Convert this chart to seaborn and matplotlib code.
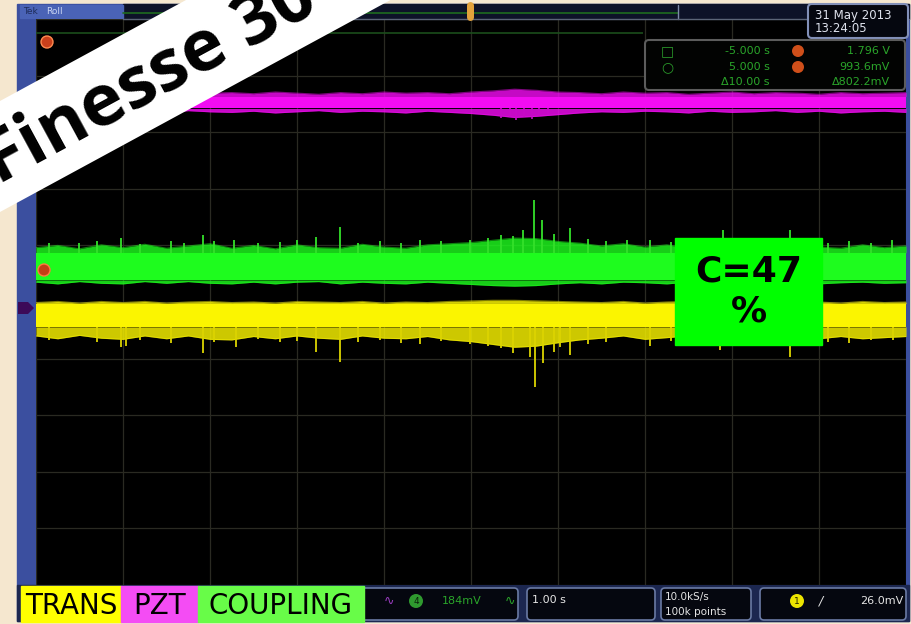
import numpy as np
import pandas as pd
import matplotlib
matplotlib.use("Agg")
import matplotlib.pyplot as plt
import seaborn as sns
from matplotlib import font_manager
from matplotlib.patches import Rectangle, Polygon, FancyBboxPatch, Circle
from matplotlib.transforms import Affine2D

# ---------------------------------------------------------------------------
# Scope capture: 1.00 s/div roll mode, 10 x 10 screen divisions
# time axis in seconds, vertical axis in screen divisions (0 = bottom)
# ---------------------------------------------------------------------------
sample_t = np.linspace(-5, 5, 41)

channels = ["TRANS", "PZT", "COUPLING"]
channel_colors = {"TRANS": "#fbf500", "PZT": "#f20cf2", "COUPLING": "#1efc1e"}
label_colors = {"TRANS": "#ffff00", "PZT": "#f44cf4", "COUPLING": "#68fc48"}

# PZT (magenta) trace envelope
pzt_core = (8.42, 8.63)
pzt_upper = [8.68, 8.70, 8.67, 8.69, 8.71, 8.68, 8.70, 8.67, 8.69, 8.70, 8.68,
             8.71, 8.69, 8.67, 8.70, 8.68, 8.71, 8.69, 8.70, 8.68, 8.71, 8.73,
             8.76, 8.74, 8.71, 8.70, 8.68, 8.71, 8.69, 8.70, 8.67, 8.69, 8.71,
             8.68, 8.70, 8.69, 8.67, 8.70, 8.68, 8.69, 8.70]
pzt_lower = [8.37, 8.35, 8.38, 8.36, 8.34, 8.37, 8.35, 8.38, 8.36, 8.35, 8.37,
             8.34, 8.36, 8.38, 8.35, 8.37, 8.36, 8.34, 8.37, 8.35, 8.33, 8.30,
             8.26, 8.28, 8.31, 8.34, 8.36, 8.35, 8.37, 8.36, 8.34, 8.37, 8.35,
             8.36, 8.38, 8.35, 8.37, 8.34, 8.36, 8.37, 8.35]
pzt_spike_t = [0.35, 0.45, 0.52, 0.61, 0.70, 0.78, 0.88]
pzt_spike_bottom = [8.25, 8.27, 8.22, 8.26, 8.24, 8.28, 8.30]

# COUPLING (green) trace envelope and upward glitches
coupling_core = (5.39, 5.87)
coupling_upper = [5.96, 6.00, 5.94, 6.01, 5.96, 6.02, 5.95, 5.99, 6.03, 5.95, 6.00,
                  5.94, 6.01, 5.96, 5.95, 6.02, 5.97, 5.95, 6.01, 6.03, 6.05, 6.09,
                  6.13, 6.12, 6.07, 6.04, 5.99, 6.03, 5.97, 6.01, 5.95, 6.02, 5.96,
                  6.00, 5.94, 6.02, 5.97, 5.95, 6.01, 5.96, 5.99]
coupling_lower = [5.35, 5.32, 5.36, 5.33, 5.32, 5.36, 5.33, 5.36, 5.33, 5.32, 5.35,
                  5.32, 5.35, 5.36, 5.32, 5.35, 5.33, 5.32, 5.35, 5.33, 5.31, 5.29,
                  5.28, 5.29, 5.32, 5.34, 5.32, 5.35, 5.34, 5.32, 5.35, 5.33, 5.34,
                  5.36, 5.33, 5.35, 5.32, 5.34, 5.35, 5.33, 5.34]
coupling_spike_t = [-4.85, -4.51, -4.30, -4.02, -3.80, -3.45, -3.30, -3.08, -2.95,
                    -2.72, -2.45, -2.20, -2.00, -1.78, -1.51, -1.30, -1.05, -0.80,
                    -0.59, -0.35, -0.01, 0.20, 0.35, 0.48, 0.60, 0.72, 0.82, 0.95,
                    1.14, 1.35, 1.55, 1.79, 2.06, 2.30, 2.55, 2.90, 3.05, 3.35,
                    3.67, 3.90, 4.10, 4.35, 4.60, 4.84]
coupling_spike_top = [6.04, 6.05, 6.07, 6.13, 6.03, 6.08, 6.05, 6.18, 6.07,
                      6.10, 6.04, 6.06, 6.09, 6.15, 6.32, 6.05, 6.07, 6.04,
                      6.09, 6.07, 6.10, 6.13, 6.18, 6.17, 6.27, 6.80, 6.45, 6.20,
                      6.30, 6.11, 6.08, 6.10, 6.09, 6.06, 6.05, 6.27, 6.08, 6.05,
                      6.27, 6.07, 6.04, 6.07, 6.05, 6.10]

# TRANS (yellow) trace envelope and downward glitches
trans_core = (4.56, 4.97)
trans_upper = [4.99, 5.01, 4.98, 5.01, 4.99, 5.01, 4.98, 5.00, 5.01, 4.99, 5.00,
               4.98, 5.01, 5.00, 4.99, 5.01, 4.98, 5.00, 4.99, 5.01, 5.02, 5.03,
               5.03, 5.02, 5.01, 5.00, 4.99, 5.01, 4.98, 5.00, 5.01, 4.99, 5.01,
               4.98, 5.01, 4.99, 5.00, 4.98, 5.01, 4.99, 5.00]
trans_lower = [4.40, 4.35, 4.41, 4.36, 4.34, 4.40, 4.35, 4.40, 4.34, 4.33, 4.39,
               4.35, 4.40, 4.36, 4.34, 4.40, 4.36, 4.35, 4.39, 4.33, 4.30, 4.25,
               4.20, 4.22, 4.28, 4.33, 4.36, 4.40, 4.34, 4.37, 4.40, 4.35, 4.39,
               4.34, 4.37, 4.40, 4.35, 4.39, 4.35, 4.37, 4.39]
trans_spike_t = [-4.85, -4.30, -4.02, -3.97, -3.80, -3.45, -3.08, -2.95, -2.70,
                 -2.45, -2.20, -2.00, -1.78, -1.51, -1.30, -1.05, -0.80, -0.59,
                 -0.35, -0.01, 0.20, 0.35, 0.48, 0.68, 0.74, 0.83, 0.95, 1.02,
                 1.14, 1.35, 1.55, 2.06, 2.30, 2.55, 2.86, 3.05, 3.35, 3.67,
                 3.90, 4.10, 4.35, 4.60, 4.85]
trans_spike_bottom = [4.32, 4.30, 4.20, 4.22, 4.33, 4.28, 4.10, 4.30, 4.20,
                      4.34, 4.29, 4.31, 4.12, 3.94, 4.30, 4.33, 4.28, 4.25,
                      4.31, 4.26, 4.22, 4.18, 4.10, 4.03, 3.50, 3.92, 4.12, 4.20,
                      4.06, 4.26, 4.30, 4.22, 4.31, 4.28, 4.15, 4.32, 4.29, 4.03,
                      4.33, 4.30, 4.27, 4.32, 4.33]

# horizontal cursor (upper) shown as a dim line
cursor_level = [9.75]
cursor_end_t = [1.98]

# readouts
cursor_rows = [("\u25a1", "-5.000 s", "1.796 V"),
               ("\u25cb", "5.000 s", "993.6mV"),
               ("", "\u039410.00 s", "\u0394802.2mV")]
date_lines = ["31 May 2013", "13:24:05"]
coupling_text = "C=47\n%"
banner_text = "Finesse 30"

# ---------------------------------------------------------------------------
W, H = 912, 624
sns.set_theme(style="dark", rc={"axes.facecolor": "black",
                                "figure.facecolor": "#f5e7cf"})
plt.rcParams["font.family"] = ["DejaVu Sans"]

available = {f.name for f in font_manager.fontManager.ttflist}
banner_family = "Open Sans" if "Open Sans" in available else "DejaVu Sans"

fig = plt.figure(figsize=(W / 100, H / 100), dpi=100)
px = Affine2D().scale(1 / W, -1 / H).translate(0, 1) + fig.transFigure


def prect(x0, y0, x1, y1, z=-1, **kw):
    r = Rectangle((x0, y0), x1 - x0, y1 - y0, transform=px, zorder=z, **kw)
    fig.add_artist(r)
    return r


def pbox(x0, y0, x1, y1, z=2, **kw):
    b = FancyBboxPatch((x0, y0), x1 - x0, y1 - y0, boxstyle="round,pad=0,rounding_size=4",
                       transform=px, zorder=z, **kw)
    fig.add_artist(b)
    return b


def ptext(x, y, s, z=4, **kw):
    return fig.text(x, y, s, transform=px, zorder=z, **kw)


def pcircle(x, y, r, z=3, **kw):
    c = Circle((x, y), r, transform=px, zorder=z, **kw)
    fig.add_artist(c)
    return c


# instrument bezel
prect(17, 4, 909, 621, color="#3b4f9f", z=-2)
prect(123, 4, 909, 19, color="#0d1228", z=-1)
prect(17, 585, 909, 621, color="#1c2750", z=-1)
prect(20, 5, 123, 18, color="#4a63b6", z=-1)
ptext(23, 12, "Tek", color="#1e2c5a", fontsize=6.5, va="center")
ptext(46, 12, "Roll", color="#c9d5f2", fontsize=6.5, va="center")

# screen
ax = fig.add_axes([36 / W, (H - 585) / H, 870 / W, 566 / H])
ax.set_facecolor("black")
ax.set_xlim(-5, 5)
ax.set_ylim(0, 10)
ax.set_xticks(np.arange(-5, 5.01, 1))
ax.set_yticks(np.arange(0, 10.01, 1))
ax.grid(True, color="#2a2a22", lw=0.9)
ax.tick_params(length=0, labelbottom=False, labelleft=False)
for s in ax.spines.values():
    s.set_visible(False)

traces = {
    "PZT": (pzt_core, pzt_upper, pzt_lower),
    "COUPLING": (coupling_core, coupling_upper, coupling_lower),
    "TRANS": (trans_core, trans_upper, trans_lower),
}

rows = []
for name, (core, up, lo) in traces.items():
    for t, u, l in zip(sample_t, up, lo):
        rows.append({"channel": name, "edge": "upper", "time": t, "level": u})
        rows.append({"channel": name, "edge": "lower", "time": t, "level": l})
env = pd.DataFrame(rows)

for z, name in enumerate(["PZT", "COUPLING", "TRANS"]):
    core, up, lo = traces[name]
    col = channel_colors[name]
    # noisy fringe around the solid band
    ax.fill_between(sample_t, core[1], up, color=col, alpha=0.82, lw=0, zorder=3 + z)
    ax.fill_between(sample_t, lo, core[0], color=col, alpha=0.82, lw=0, zorder=3 + z)
    ax.fill_between(sample_t, core[0], core[1], color=col, lw=0, zorder=3 + z)
    sns.lineplot(data=env[env.channel == name], x="time", y="level", units="edge",
                 estimator=None, color=col, lw=0.8, alpha=0.5, ax=ax, zorder=3 + z,
                 legend=False)

ax.vlines(pzt_spike_t, pzt_spike_bottom, pzt_core[0],
          color="#c80ac8", lw=1.2, zorder=3)
ax.vlines(coupling_spike_t, coupling_core[1], coupling_spike_top,
          color="#34e02a", lw=1.3, zorder=4)
ax.vlines(trans_spike_t, trans_spike_bottom, trans_core[0],
          color="#dcd400", lw=1.3, zorder=5)
ax.hlines(cursor_level, -5, cursor_end_t, color="#1b4d1b", lw=1.2, zorder=2)
ax.set_xlabel("")
ax.set_ylabel("")

# record bar and trigger position
fig.add_artist(plt.Line2D([123, 678], [13, 13], transform=px, color="#1f6b1f", lw=1.2, zorder=1))
fig.add_artist(plt.Line2D([678, 678], [5, 19], transform=px, color="#7d8aa8", lw=1, zorder=1))
fig.add_artist(plt.Line2D([123, 909], [19, 19], transform=px, color="#5b6478", lw=1, zorder=1))
pbox(467, 2, 474, 21, z=3, facecolor="#e3a23c", edgecolor="none")

# channel markers
pcircle(47, 42, 6, facecolor="#c9401c", edgecolor="#ff8a50", lw=1)
pcircle(44, 270, 6, facecolor="#c24016", edgecolor="#ff7a40", lw=1, z=6)
fig.add_artist(Polygon([(18, 302), (28, 302), (34, 308), (28, 314), (18, 314)],
                       transform=px, facecolor="#3c0a58", edgecolor="none", zorder=3))

# date box
pbox(808, 4, 908, 38, facecolor="#05070f", edgecolor="#8290b8", lw=1.5)
ptext(815, 15, date_lines[0], color="#dfe3ee", fontsize=8.5, va="center")
ptext(815, 29, date_lines[1], color="#dfe3ee", fontsize=8.5, va="center")

# cursor readout box
pbox(645, 40, 905, 90, facecolor="#020302", edgecolor="#5c5c5c", lw=1.5)
row_y = [51, 67, 82]
for (sym, tval, vval), yy in zip(cursor_rows, row_y):
    if sym:
        ptext(667, yy, sym, color="#2a9a2a", fontsize=10, ha="center", va="center")
        pcircle(798, yy, 6, facecolor="#cf4f1a", edgecolor="none", z=3)
    ptext(770, yy, tval, color="#2aa52a", fontsize=8, ha="right", va="center")
    ptext(890, yy, vval, color="#2aa52a", fontsize=8, ha="right", va="center")

# status bar
pbox(350, 588, 518, 620, facecolor="#05070f", edgecolor="#6a7aa4", lw=1.2)
pbox(527, 588, 655, 620, facecolor="#05070f", edgecolor="#6a7aa4", lw=1.2)
pbox(661, 588, 751, 620, facecolor="#05070f", edgecolor="#6a7aa4", lw=1.2)
pbox(760, 588, 906, 620, facecolor="#05070f", edgecolor="#6a7aa4", lw=1.2)
ptext(389, 601, "\u223f", color="#9a3cc0", fontsize=9, ha="center", va="center")
pcircle(416, 601, 7, facecolor="#2f9a2f", edgecolor="none")
ptext(416, 601, "4", color="#0a200a", fontsize=6.5, ha="center", va="center")
ptext(442, 601, "184mV", color="#2aa52a", fontsize=8, va="center")
ptext(510, 601, "\u223f", color="#2aa52a", fontsize=9, ha="center", va="center")
ptext(532, 600, "1.00 s", color="#e4e4e4", fontsize=8, va="center")
ptext(665, 597, "10.0kS/s", color="#e4e4e4", fontsize=7.5, va="center")
ptext(665, 612, "100k points", color="#e4e4e4", fontsize=7.5, va="center")
pcircle(797, 601, 7, facecolor="#ece400", edgecolor="none")
ptext(797, 601, "1", color="#202000", fontsize=6.5, ha="center", va="center")
ptext(821, 601, "/", color="#e4e4e4", fontsize=9, ha="center", va="center", style="italic")
ptext(903, 601, "26.0mV", color="#e4e4e4", fontsize=8, ha="right", va="center")

# channel name labels
label_spans = {"TRANS": (21, 121), "PZT": (121, 198), "COUPLING": (198, 364)}
for name in channels:
    x0, x1 = label_spans[name]
    prect(x0, 586, x1, 622, color=label_colors[name], z=6)
    ptext((x0 + x1) / 2, 606, name, z=7, color="black", fontsize=20,
          family="DejaVu Sans", fontweight="normal",
          ha="center", va="center")

# coupling value tag
prect(675, 238, 822, 345, color="#00ff00", z=6)
ptext(748.5, 291.5, coupling_text, z=7, color="black", fontsize=26, fontweight="bold",
      ha="center", va="center", linespacing=1.25, multialignment="center")

# diagonal banner
k = np.tan(np.radians(28.5))
banner = Polygon([(-100, 101 + 100 * k), (500, 101 - 500 * k),
                  (500, 212 - 500 * k), (-100, 212 + 100 * k)],
                 transform=px, facecolor="white", edgecolor="none", zorder=20)
fig.add_artist(banner)
ptext(-2, 185, banner_text, z=21, color="black", fontsize=52, fontweight="bold",
      family=[banner_family, "DejaVu Sans"], rotation=28.5, rotation_mode="anchor",
      ha="left", va="baseline")

fig.savefig("out.png", dpi=100, facecolor=fig.get_facecolor())
